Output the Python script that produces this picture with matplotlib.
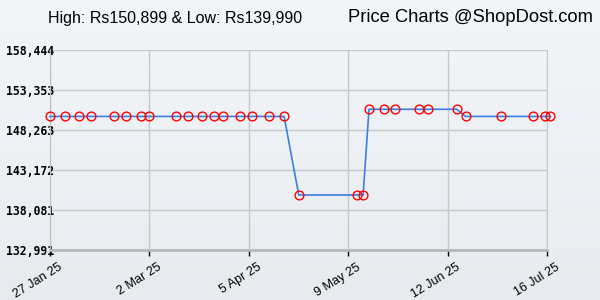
import matplotlib
matplotlib.use("Agg")
import matplotlib.pyplot as plt
import matplotlib.transforms as mtransforms
import numpy as np
import datetime as dt

# ---- data ----
dates = ["2025-01-27", "2025-02-01", "2025-02-06", "2025-02-10", "2025-02-18",
         "2025-02-22", "2025-02-27", "2025-03-02", "2025-03-11", "2025-03-15",
         "2025-03-20", "2025-03-24", "2025-03-27", "2025-04-02", "2025-04-06",
         "2025-04-12", "2025-04-17", "2025-04-22", "2025-05-12", "2025-05-14",
         "2025-05-16", "2025-05-21", "2025-05-25", "2025-06-02", "2025-06-05",
         "2025-06-15", "2025-06-18", "2025-06-30", "2025-07-11", "2025-07-15",
         "2025-07-17"]
prices = [149990, 149990, 149990, 149990, 149990,
          149990, 149990, 149990, 149990, 149990,
          149990, 149990, 149990, 149990, 149990,
          149990, 149990, 139990, 139990, 139990,
          150899, 150899, 150899, 150899, 150899,
          150899, 149990, 149990, 149990, 149990,
          149990]
ytick_vals = [132991, 138081, 143172, 148263, 153353, 158444]
ytick_labels = ["132,991", "138,081", "143,172", "148,263", "153,353", "158,444"]
xtick_dates = ["2025-01-27", "2025-03-02", "2025-04-05", "2025-05-09", "2025-06-12", "2025-07-16"]
xtick_labels = ["27 Jan 25", "2 Mar 25", "5 Apr 25", "9 May 25", "12 Jun 25", "16 Jul 25"]
title_left = "High: Rs150,899 & Low: Rs139,990"
title_right = "Price Charts @ShopDost.com"

x = [dt.datetime.strptime(d, "%Y-%m-%d") for d in dates]
xt = [dt.datetime.strptime(d, "%Y-%m-%d") for d in xtick_dates]

fig = plt.figure(figsize=(6, 3), dpi=100)

# background gradient
bg = fig.add_axes([0, 0, 1, 1], zorder=-10)
top = np.array([0xf3, 0xf6, 0xf9]) / 255
bot = np.array([0xe7, 0xeb, 0xef]) / 255
t = np.linspace(0, 1, 300)[:, None]
grad = (top[None, :] * (1 - t) + bot[None, :] * t)[:, None, :]
bg.imshow(grad, aspect="auto", extent=[0, 1, 0, 1])
bg.axis("off")

ax = fig.add_axes([50 / 600, 50 / 300, 497.5 / 600, 200 / 300])
ax.patch.set_alpha(0)

ax.plot(x, prices, color="#3a80e6", lw=1.2, zorder=3, clip_on=False)
ax.plot(x, prices, linestyle="none", marker="o", markersize=6.3,
        markerfacecolor="none", markeredgecolor="#ff0000", markeredgewidth=1.0,
        zorder=4, clip_on=False)

ax.set_xlim(xt[0], xt[-1])
ax.set_ylim(ytick_vals[0], ytick_vals[-1])

ax.set_yticks(ytick_vals)
ax.set_yticklabels(ytick_labels, family="DejaVu Sans Mono", fontweight="bold", fontsize=8.3)
ax.tick_params(axis="y", length=0, pad=-3)

ax.set_xticks(xt)
ax.set_xticklabels(xtick_labels, family="Liberation Sans", fontsize=9,
                   rotation=32, ha="right", rotation_mode="anchor")
ax.tick_params(axis="x", length=4, width=1, color="black", pad=4)
offset = mtransforms.ScaledTranslation(8 / 100, 0, fig.dpi_scale_trans)
for lbl in ax.get_xticklabels():
    lbl.set_transform(lbl.get_transform() + offset)

ax.grid(True, color="#c8c8c8", lw=1)
for s in ["top", "right"]:
    ax.spines[s].set_visible(False)
ax.spines["left"].set_color("#c0c0c0")
ax.spines["bottom"].set_color("#b8b8b8")
ax.spines["bottom"].set_linewidth(2)

fig.text(48 / 600, 1 - 18 / 300, title_left, family="Liberation Sans", fontsize=11.5,
         ha="left", va="center")
fig.text(593 / 600, 1 - 18 / 300, title_right, family="Liberation Sans", fontsize=13.2,
         ha="right", va="center")

fig.savefig("out.png", dpi=100)
